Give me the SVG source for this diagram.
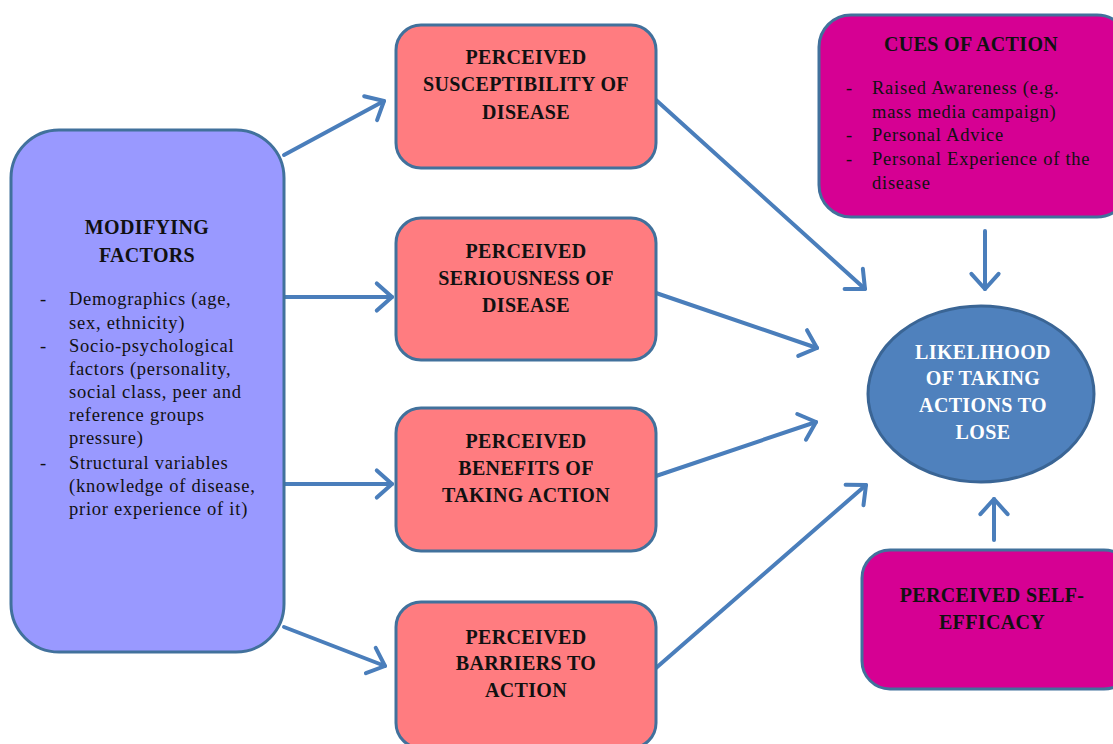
<svg xmlns="http://www.w3.org/2000/svg" width="1113" height="744" viewBox="0 0 1113 744">
<defs>
<marker id="ah" markerWidth="8" markerHeight="8" refX="6" refY="4" orient="auto" markerUnits="strokeWidth" overflow="visible">
<polyline points="2.2,0.6 6,4 2.2,7.4" fill="none" stroke="#4a7ebb" stroke-width="1" stroke-linecap="round" stroke-linejoin="round"/>
</marker>
<style>
.box{stroke:#41719c;stroke-width:3}
.mod{fill:#9999ff}
.red{fill:#ff7c80}
.mag{fill:#d60093}
.ell{fill:#4f81bd;stroke:#3a6595;stroke-width:3}
text{font-family:'Liberation Serif','Times New Roman','DejaVu Serif',serif}
.t{font-weight:bold;font-size:20px;letter-spacing:0.35px;fill:#111;text-anchor:middle}
.w{fill:#fff}
.l text{font-size:18.5px;letter-spacing:0.75px;fill:#111}
.c line{stroke:#4a7ebb;stroke-width:4;marker-end:url(#ah);stroke-linecap:round}
</style>
</defs>
<rect width="1113" height="744" fill="#fff"/>
<g class="c" id="connectors">
<line x1="284" y1="155" x2="384" y2="101"/>
<line x1="284" y1="297" x2="392" y2="297"/>
<line x1="284" y1="484" x2="392" y2="484"/>
<line x1="284" y1="627" x2="385" y2="666"/>
<line x1="656" y1="100" x2="865" y2="289"/>
<line x1="656" y1="293" x2="817" y2="348"/>
<line x1="656" y1="476" x2="816" y2="422"/>
<line x1="656" y1="668" x2="866" y2="485"/>
<line x1="985" y1="231" x2="985" y2="289"/>
<line x1="994" y1="540" x2="994" y2="499"/>
</g>
<g id="modifying">
<rect class="box mod" x="11" y="130" width="273" height="522" rx="48"/>
<text class="t" x="147" y="234">MODIFYING</text>
<text class="t" x="147" y="262">FACTORS</text>
<g class="l">
<text x="40" y="305">-</text><text x="69" y="305">Demographics (age,</text>
<text x="69" y="329">sex, ethnicity)</text>
<text x="40" y="352">-</text><text x="69" y="352">Socio-psychological</text>
<text x="69" y="375">factors (personality,</text>
<text x="69" y="398">social class, peer and</text>
<text x="69" y="421">reference groups</text>
<text x="69" y="444">pressure)</text>
<text x="40" y="469">-</text><text x="69" y="469">Structural variables</text>
<text x="69" y="492">(knowledge of disease,</text>
<text x="69" y="515">prior experience of it)</text>
</g>
</g>
<g id="susceptibility">
<rect class="box red" x="396" y="25" width="260" height="143" rx="25"/>
<text class="t" x="526" y="64">PERCEIVED</text>
<text class="t" x="526" y="91">SUSCEPTIBILITY OF</text>
<text class="t" x="526" y="119">DISEASE</text>
</g>
<g id="seriousness">
<rect class="box red" x="396" y="218" width="260" height="142" rx="25"/>
<text class="t" x="526" y="258">PERCEIVED</text>
<text class="t" x="526" y="285">SERIOUSNESS OF</text>
<text class="t" x="526" y="312">DISEASE</text>
</g>
<g id="benefits">
<rect class="box red" x="396" y="408" width="260" height="143" rx="25"/>
<text class="t" x="526" y="448">PERCEIVED</text>
<text class="t" x="526" y="475">BENEFITS OF</text>
<text class="t" x="526" y="502">TAKING ACTION</text>
</g>
<g id="barriers">
<rect class="box red" x="396" y="602" width="260" height="146" rx="25"/>
<text class="t" x="526" y="644">PERCEIVED</text>
<text class="t" x="526" y="670">BARRIERS TO</text>
<text class="t" x="526" y="697">ACTION</text>
</g>
<g id="cues">
<rect class="box mag" x="819" y="15" width="310" height="202" rx="32"/>
<text class="t" x="971" y="51">CUES OF ACTION</text>
<g class="l">
<text x="846" y="94">-</text><text x="872" y="94">Raised Awareness (e.g.</text>
<text x="872" y="118">mass media campaign)</text>
<text x="846" y="141">-</text><text x="872" y="141">Personal Advice</text>
<text x="846" y="165">-</text><text x="872" y="165">Personal Experience of the</text>
<text x="872" y="189">disease</text>
</g>
</g>
<g id="likelihood">
<ellipse class="ell" cx="981" cy="394" rx="113" ry="88"/>
<text class="t w" x="983" y="359">LIKELIHOOD</text>
<text class="t w" x="983" y="385">OF TAKING</text>
<text class="t w" x="983" y="412">ACTIONS TO</text>
<text class="t w" x="983" y="439">LOSE</text>
</g>
<g id="selfefficacy">
<rect class="box mag" x="862" y="550" width="270" height="139" rx="28"/>
<text class="t" x="992" y="602">PERCEIVED SELF-</text>
<text class="t" x="992" y="629">EFFICACY</text>
</g>
</svg>
